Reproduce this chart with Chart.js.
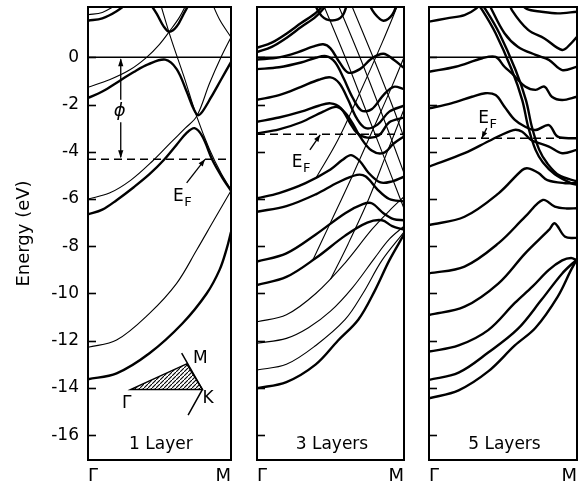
<!DOCTYPE html>
<html><head><meta charset="utf-8">
<script src="https://cdn.jsdelivr.net/npm/chart.js@4"></script>
<style>
html,body{margin:0;padding:0;background:#fff;}
#wrap{position:relative;width:579px;height:484px;overflow:hidden;background:#fff;}
canvas{position:absolute;top:0;}
</style></head><body>
<div id="wrap">
<canvas id="c1" width="240" height="484" style="left:0px;width:240px;height:484px"></canvas>
<canvas id="c2" width="172" height="484" style="left:240px;width:172px;height:484px"></canvas>
<canvas id="c3" width="167" height="484" style="left:412px;width:167px;height:484px"></canvas>
</div>
<script>
// ---------- axes / labels ----------
const kLabels = ['Γ', 'M'];
const kPos = [0, 1];
const energyTicks = [-16, -14, -12, -10, -8, -6, -4, -2, 0];
const energyTickLabels = ['-16', '-14', '-12', '-10', '-8', '-6', '-4', '-2', '0'];
const layerLabels = ['1 Layer', '3 Layers', '5 Layers'];
const fermiLevels = [-4.32, -3.26, -3.43];
const vacuumLevel = 0;
const energyRange = [-17.05, 2.13];

// ---------- 1 layer bands [k, E] ----------
const p1_A = [[0,-1.72],[0.1,-1.45],[0.22,-1.0],[0.32,-0.62],[0.42,-0.3],[0.54,-0.1],[0.62,-0.5],[0.69,-1.45],[0.74,-2.2],[0.77,-2.45],[0.8,-2.3],[0.86,-1.7],[0.93,-0.95],[1,-0.2]];
const p1_B = [[0,-6.65],[0.1,-6.45],[0.2,-6.05],[0.32,-5.5],[0.43,-4.95],[0.53,-4.35],[0.62,-3.7],[0.69,-3.2],[0.745,-3.0],[0.8,-3.35],[0.87,-4.35],[0.94,-5.1],[1,-5.65]];
const p1_F = [[0.42,2.4],[0.48,1.85],[0.53,1.3],[0.57,1.08],[0.62,1.3],[0.67,1.85],[0.72,2.4]];
const p1_H = [[0,1.55],[0.1,1.65],[0.2,1.95],[0.3,2.4]];
const p1_J = [[0,-13.63],[0.2,-13.38],[0.43,-12.53],[0.66,-11.27],[0.83,-10.0],[0.92,-9.0],[0.97,-8.1],[1,-7.4]];
const p1_C = [[0,-6.0],[0.15,-5.75],[0.3,-5.2],[0.45,-4.4],[0.58,-3.6],[0.68,-3.0],[0.76,-2.5],[0.85,-1.1],[0.93,0.0],[1,0.85]];
const p1_D = [[0.5,2.4],[0.58,0.8],[0.67,-0.8],[0.76,-2.5],[0.85,-3.9],[0.93,-4.9],[1,-5.6]];
const p1_E = [[0,-1.27],[0.15,-0.95],[0.29,-0.54],[0.41,0.0],[0.5,0.55],[0.57,1.1],[0.64,1.7],[0.7,2.4]];
const p1_G = [[0.86,2.4],[0.92,1.6],[1,0.85]];
const p1_I = [[0,1.8],[0.1,1.9],[0.18,2.15],[0.25,2.4]];
const p1_K = [[0,-12.28],[0.2,-11.97],[0.43,-10.84],[0.62,-9.57],[0.76,-8.16],[0.88,-6.9],[1,-5.65]];

// ---------- 3 layer bands ----------
const p3_U1a = [[0,0.40],[0.1,0.62],[0.2,1.0],[0.3,1.45],[0.4,1.88],[0.48,2.4]];
const p3_U1b = [[0,0.22],[0.1,0.44],[0.2,0.82],[0.3,1.28],[0.4,1.72],[0.5,2.4]];
const p3_U2 = [[0.38,2.4],[0.44,1.75],[0.51,1.56],[0.58,1.75],[0.62,2.4]];
const p3_U3 = [[0.75,2.4],[0.8,1.85],[0.86,1.55],[0.92,1.8],[0.96,2.4]];
const p3_A5 = [[0,-0.1],[0.15,0.0],[0.28,0.22],[0.38,0.45],[0.45,0.55],[0.5,0.38],[0.56,-0.2],[0.62,-0.65],[0.7,-0.5],[0.78,-0.05],[0.86,0.15],[0.93,-0.1],[1,-0.45]];
const p3_A4 = [[0,-0.5],[0.15,-0.42],[0.3,-0.22],[0.4,-0.02],[0.47,0.05],[0.53,-0.2],[0.59,-0.9],[0.65,-1.7],[0.71,-2.25],[0.78,-2.2],[0.86,-1.6],[0.93,-1.25],[1,-1.35]];
const p3_A3 = [[0,-1.8],[0.15,-1.6],[0.3,-1.25],[0.42,-0.95],[0.5,-0.85],[0.56,-1.1],[0.62,-1.8],[0.68,-2.6],[0.74,-3.0],[0.82,-2.85],[0.9,-2.3],[1,-2.05]];
const p3_A1 = [[0,-2.73],[0.15,-2.55],[0.3,-2.3],[0.42,-2.05],[0.5,-1.95],[0.57,-2.15],[0.63,-2.75],[0.68,-3.2],[0.75,-3.4],[0.83,-3.3],[0.9,-2.75],[1,-2.55]];
const p3_A2 = [[0,-3.22],[0.15,-3.05],[0.3,-2.75],[0.45,-2.3],[0.54,-2.1],[0.6,-2.35],[0.66,-2.9],[0.7,-3.35],[0.78,-3.95],[0.86,-4.05],[0.93,-3.65],[1,-3.35]];
const p3_Ma = [[0,-5.97],[0.15,-5.75],[0.33,-5.33],[0.5,-4.75],[0.58,-4.35],[0.64,-4.14],[0.7,-4.4],[0.76,-4.9],[0.84,-5.3],[0.92,-5.25],[1,-5.05]];
const p3_Mb = [[0,-6.54],[0.2,-6.3],[0.4,-5.8],[0.55,-5.3],[0.68,-4.98],[0.74,-5.05],[0.82,-5.6],[0.9,-6.0],[1,-6.1]];
const p3_Lf = [[0,-8.65],[0.2,-8.3],[0.4,-7.5],[0.6,-6.6],[0.72,-6.22],[0.78,-6.18],[0.86,-6.6],[0.93,-6.85],[1,-6.9]];
const p3_Le = [[0,-9.64],[0.2,-9.3],[0.4,-8.5],[0.6,-7.55],[0.75,-7.0],[0.85,-6.9],[0.92,-7.15],[1,-7.3]];
const p3_Ld = [[0,-11.2],[0.2,-10.9],[0.4,-10.0],[0.6,-8.7],[0.78,-7.3],[0.9,-6.5],[1,-5.9]];
const p3_Lc = [[0,-12.11],[0.2,-11.9],[0.35,-11.45],[0.5,-10.75],[0.65,-9.75],[0.8,-8.5],[0.9,-7.7],[1,-7.15]];
const p3_Lb = [[0,-13.24],[0.2,-13.0],[0.4,-12.2],[0.6,-11.1],[0.72,-10.0],[0.85,-8.6],[1,-7.4]];
const p3_La = [[0,-14.01],[0.2,-13.75],[0.4,-13.0],[0.55,-12.0],[0.69,-11.1],[0.8,-9.9],[0.9,-8.6],[1,-7.5]];
const p3_T1 = [[0.44,2.4],[0.6,0.0],[0.75,-2.4],[0.9,-4.8],[1,-6.4]];
const p3_T2 = [[0.54,2.4],[0.7,0.0],[0.85,-2.4],[1,-4.9]];
const p3_T3 = [[0.63,2.4],[0.79,0.0],[0.93,-2.2],[1,-3.4]];
const p3_T4 = [[0.38,-8.58],[0.5,-7.0],[0.65,-5.0],[0.8,-2.9],[0.92,-1.2],[1,0.0]];
const p3_T5 = [[0.5,-9.4],[0.62,-7.9],[0.76,-6.0],[0.88,-4.1],[1,-2.2]];
const p3_T6 = [[0.4,-5.12],[0.55,-3.5],[0.7,-1.5],[0.85,0.6],[0.97,2.4]];

// ---------- 5 layer bands ----------
const p5_top = [[0.6,2.4],[0.66,2.05],[0.76,1.93],[0.87,1.86],[1,1.93]];
const p5_B10 = [[0,1.51],[0.12,1.65],[0.24,1.79],[0.32,2.07],[0.36,2.4]];
const p5_S1 = [[0.31,2.4],[0.36,2.0],[0.45,1.02],[0.56,-0.54],[0.63,-1.81],[0.67,-2.94],[0.72,-3.92],[0.77,-4.45],[0.85,-4.95],[0.96,-5.33],[1,-5.4]];
const p5_S2 = [[0.335,2.4],[0.385,2.0],[0.475,1.02],[0.585,-0.54],[0.655,-1.81],[0.695,-2.94],[0.745,-3.92],[0.8,-4.5],[0.88,-5.0],[1,-5.25]];
const p5_B11 = [[0.4,2.4],[0.42,2.07],[0.51,1.02],[0.6,0.45],[0.72,0.1],[0.81,-0.11],[0.9,-0.54],[1,-0.4]];
const p5_B12 = [[0.54,2.4],[0.56,2.0],[0.67,1.16],[0.78,0.8],[0.9,0.31],[0.96,0.59],[1,0.87]];
const p5_B9 = [[0,-0.61],[0.18,-0.4],[0.36,-0.04],[0.45,0.02],[0.51,-0.4],[0.56,-0.68],[0.65,-1.24],[0.72,-1.38],[0.78,-1.24],[0.83,-1.67],[0.9,-1.81],[1,-1.67]];
const p5_B8 = [[0,-2.16],[0.15,-1.95],[0.29,-1.67],[0.38,-1.52],[0.45,-1.6],[0.51,-2.09],[0.58,-2.65],[0.65,-2.94],[0.72,-3.08],[0.81,-2.87],[0.87,-3.36],[1,-3.43]];
const p5_B7 = [[0,-4.63],[0.24,-4.06],[0.42,-3.5],[0.57,-3.08],[0.63,-3.15],[0.69,-3.5],[0.81,-3.78],[0.9,-4.06],[1,-3.92]];
const p5_B6 = [[0,-7.1],[0.24,-6.75],[0.47,-5.76],[0.63,-4.77],[0.67,-4.7],[0.74,-4.9],[0.8,-5.2],[0.92,-5.33],[1,-5.33]];
const p5_B5 = [[0,-9.15],[0.24,-8.86],[0.47,-7.87],[0.65,-6.75],[0.77,-6.04],[0.85,-6.32],[0.93,-6.4],[1,-6.39]];
const p5_B4 = [[0,-10.91],[0.24,-10.56],[0.47,-9.57],[0.65,-8.3],[0.81,-7.31],[0.85,-7.03],[0.92,-7.6],[1,-7.65]];
const p5_B3 = [[0,-12.46],[0.2,-12.2],[0.4,-11.55],[0.58,-10.4],[0.7,-9.7],[0.81,-9.0],[0.9,-8.6],[0.96,-8.5],[1,-8.6]];
const p5_B2 = [[0,-13.66],[0.2,-13.35],[0.4,-12.5],[0.6,-11.5],[0.76,-10.27],[0.9,-9.15],[1,-8.55]];
const p5_B1 = [[0,-14.44],[0.2,-14.1],[0.4,-13.3],[0.58,-12.2],[0.72,-11.45],[0.87,-10.13],[0.96,-9.0],[1,-8.55]];

const panel1Thick = [p1_A, p1_B, p1_F, p1_H, p1_J];
const panel1Thin = [p1_C, p1_D, p1_E, p1_G, p1_I, p1_K];
const panel3Thick = [p3_U1a, p3_U1b, p3_U2, p3_U3, p3_A5, p3_A4, p3_A3, p3_A1, p3_A2, p3_Ma, p3_Mb, p3_Lf, p3_Le, p3_La];
const panel3Thin = [p3_Ld, p3_Lc, p3_Lb, p3_T1, p3_T2, p3_T3, p3_T4, p3_T5, p3_T6];
const panel5Thick = [p5_top, p5_B10, p5_S1, p5_S2, p5_B11, p5_B12, p5_B9, p5_B8, p5_B7, p5_B6, p5_B5, p5_B4, p5_B3, p5_B2, p5_B1];
const panel5Thin = [];

// ---------- annotation placement (data units) ----------
const efNotes = [
  {text:[0.594,-6.08], from:[0.69,-5.32], to:[0.818,-4.32]},
  {text:[0.236,-4.64], from:[0.36,-3.92], to:[0.43,-3.28]},
  {text:[0.333,-2.79], from:[0.39,-3.0], to:[0.356,-3.43]}
];
const layerLabelPos = [0.51, -16.6];
const phiNote = {x:0.229, gapTop:-1.8, gapBottom:-2.75, label:[0.222,-2.27]};
const inset = {G:[0.30,-14.06], K:[0.80,-14.06], M:[0.69,-12.98], edgeTop:[0.655,-12.53], edgeBottom:[0.70,-15.15],
  labM:[0.734,-12.94], labK:[0.80,-14.63], labG:[0.238,-14.85]};

Chart.defaults.font.family = "'DejaVu Sans', 'Liberation Sans', sans-serif";
Chart.defaults.color = '#000';

function bandSet(list, w){
  return list.map(b => ({data: b.map(p => ({x:p[0], y:p[1]})), borderColor:'#000', borderWidth:w,
    pointRadius:0, tension:0.35, fill:false}));
}
function levelSet(e, dash, w){
  return {data:[{x:0,y:e},{x:1,y:e}], borderColor:'#000', borderWidth:w, borderDash:dash, pointRadius:0, tension:0, fill:false};
}

function arrowHead(ctx, x0, y0, x1, y1, len, half){
  const a = Math.atan2(y1-y0, x1-x0);
  ctx.beginPath();
  ctx.moveTo(x1, y1);
  ctx.lineTo(x1 - len*Math.cos(a) + half*Math.sin(a), y1 - len*Math.sin(a) - half*Math.cos(a));
  ctx.lineTo(x1 - len*Math.cos(a) - half*Math.sin(a), y1 - len*Math.sin(a) + half*Math.cos(a));
  ctx.closePath(); ctx.fill();
}

function makeHatch(ctx){
  const c = document.createElement('canvas'); c.width = 4; c.height = 4;
  const g = c.getContext('2d');
  g.strokeStyle = '#000'; g.lineWidth = 1.1;
  g.beginPath(); g.moveTo(-1,5); g.lineTo(5,-1); g.stroke();
  return ctx.createPattern(c, 'repeat');
}

const decor = {
  id:'decor',
  afterDatasetsDraw(chart, args, o){
    const {ctx, chartArea:a, scales:{x, y}} = chart;
    const P = (p) => [x.getPixelForValue(p[0]), y.getPixelForValue(p[1])];
    ctx.save();
    ctx.strokeStyle = '#000'; ctx.fillStyle = '#000';
    ctx.lineWidth = 2;
    ctx.strokeRect(a.left, a.top, a.right - a.left, a.bottom - a.top);
    ctx.lineWidth = 1.6;
    energyTicks.forEach(v => {
      const py = Math.round(y.getPixelForValue(v)) + 0.5;
      ctx.beginPath(); ctx.moveTo(a.left, py); ctx.lineTo(a.left + 8, py); ctx.stroke();
    });
    ctx.font = "17px 'DejaVu Sans'";
    ctx.textAlign = 'center'; ctx.textBaseline = 'alphabetic';
    const lp = P(layerLabelPos);
    ctx.fillText(o.layer, lp[0], lp[1]);
    const n = o.ef;
    const tp = P(n.text);
    ctx.textAlign = 'left';
    ctx.font = "17px 'DejaVu Sans'";
    ctx.fillText('E', tp[0], tp[1]);
    const ew = ctx.measureText('E').width;
    ctx.font = "13px 'DejaVu Sans'";
    ctx.fillText('F', tp[0] + ew + 0.5, tp[1] + 5);
    const f = P(n.from), t = P(n.to);
    ctx.lineWidth = 1.3;
    ctx.beginPath(); ctx.moveTo(f[0], f[1]); ctx.lineTo(t[0], t[1]); ctx.stroke();
    arrowHead(ctx, f[0], f[1], t[0], t[1], 7, 2.6);
    if (o.phi) {
      const px = x.getPixelForValue(phiNote.x);
      const yTop = y.getPixelForValue(vacuumLevel), yBot = y.getPixelForValue(fermiLevels[0]);
      const g1 = y.getPixelForValue(phiNote.gapTop), g2 = y.getPixelForValue(phiNote.gapBottom);
      ctx.lineWidth = 1.3;
      ctx.beginPath(); ctx.moveTo(px, yTop + 2); ctx.lineTo(px, g1); ctx.moveTo(px, g2); ctx.lineTo(px, yBot - 2); ctx.stroke();
      arrowHead(ctx, px, g1, px, yTop + 1, 8, 2.6);
      arrowHead(ctx, px, g2, px, yBot - 1, 8, 2.6);
      const lp2 = P(phiNote.label);
      ctx.font = "italic 18px 'DejaVu Sans'";
      ctx.textAlign = 'center'; ctx.textBaseline = 'middle';
      ctx.fillText('\u03D5', lp2[0], lp2[1]);
    }
    if (o.inset) {
      const G = P(inset.G), K = P(inset.K), M = P(inset.M), E1 = P(inset.edgeTop), E2 = P(inset.edgeBottom);
      ctx.beginPath(); ctx.moveTo(G[0], G[1]); ctx.lineTo(M[0], M[1]); ctx.lineTo(K[0], K[1]); ctx.closePath();
      ctx.fillStyle = makeHatch(ctx); ctx.fill();
      ctx.fillStyle = '#000';
      ctx.lineWidth = 1.5; ctx.stroke();
      ctx.beginPath(); ctx.moveTo(E1[0], E1[1]); ctx.lineTo(K[0], K[1]); ctx.lineTo(E2[0], E2[1]); ctx.stroke();
      ctx.font = "17px 'DejaVu Sans'"; ctx.textAlign = 'left'; ctx.textBaseline = 'alphabetic';
      let q = P(inset.labM); ctx.fillText('M', q[0], q[1]);
      q = P(inset.labK); ctx.fillText('K', q[0], q[1]);
      q = P(inset.labG); ctx.fillText('Γ', q[0], q[1]);
    }
    ctx.restore();
  }
};

function makeChart(id, idx, thick, thin, pad, showY, extra){
  const datasets = [
    levelSet(vacuumLevel, [], 1.5),
    levelSet(fermiLevels[idx], [8,5], 1.5),
    ...bandSet(thin, 1.1),
    ...bandSet(thick, 2.4)
  ];
  return new Chart(document.getElementById(id), {
    type:'line',
    data:{datasets},
    options:{
      responsive:false, animation:false,
      layout:{padding:pad},
      plugins:{legend:{display:false}, tooltip:{enabled:false},
        decor:Object.assign({layer:layerLabels[idx], ef:efNotes[idx]}, extra)},
      scales:{
        x:{type:'linear', min:0, max:1,
          afterBuildTicks:s => { s.ticks = kPos.map(v => ({value:v})); },
          afterFit:s => { s.height = 24; s.paddingLeft = 0; s.paddingRight = 0; },
          ticks:{callback:(v,i) => kLabels[i], align:'inner', padding:6, maxRotation:0, autoSkip:false,
            font:{size:18}, color:'#000'},
          grid:{display:false, drawTicks:false}, border:{display:false}},
        y:{type:'linear', min:energyRange[0], max:energyRange[1], display:showY,
          afterBuildTicks:s => { s.ticks = energyTicks.map(v => ({value:v})); },
          afterFit:s => { if (showY) { s.width = 88; } else { s.width = 0; } s.paddingTop = 0; s.paddingBottom = 0; },
          ticks:{callback:(v,i) => energyTickLabels[i], padding:9, font:{size:17}, color:'#000', autoSkip:false},
          grid:{display:false, drawTicks:false}, border:{display:false},
          title:{display:showY, text:'Energy (eV)', font:{size:18}, color:'#000', padding:{top:14, bottom:0}}}
      }
    },
    plugins:[decor]
  });
}

makeChart('c1', 0, panel1Thick, panel1Thin, {left:0, right:9, top:7, bottom:0}, true, {phi:true, inset:true});
makeChart('c2', 1, panel3Thick, panel3Thin, {left:17, right:8, top:7, bottom:0}, false, {});
makeChart('c3', 2, panel5Thick, panel5Thin, {left:17, right:2, top:7, bottom:0}, false, {});
</script>
</body></html>
